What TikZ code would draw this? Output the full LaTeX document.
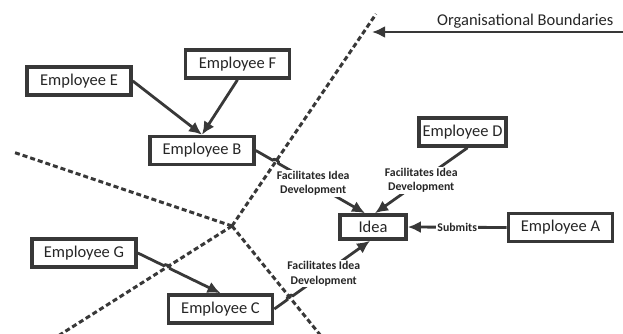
\documentclass[tikz,border=0pt]{standalone}
\usepackage{fontspec}
\setmainfont{Carlito}
\usetikzlibrary{arrows.meta}
\usetikzlibrary{calc}
\usetikzlibrary{intersections}
\definecolor{ink}{HTML}{383838}
\tikzset{
  emp/.style={draw=ink, line width=3.6pt, fill=white, minimum width=104pt,
    minimum height=28pt, font=\fontsize{16.5}{19}\selectfont, text=black!85},
  conn/.style={draw=ink, line width=2.8pt, -{Latex[length=13pt,width=12pt]}},
  bound/.style={draw=ink, line width=3pt, dash pattern=on 5pt off 3pt},
  lbl/.style={fill=white, inner sep=1pt, align=center,
    font=\fontsize{11.8}{14.5}\selectfont\bfseries, text=black!85},
}

\begin{document}
\begin{tikzpicture}[x=1pt,y=-1pt]
\useasboundingbox (0,0) rectangle (623,334);
% the two crossing boundaries
\coordinate (X) at (232,226);
\draw[bound, name path=bndUR] (X) -- (376,14);
\draw[bound, name path=bndL] (X) -- (13,152);
\draw[bound, name path=bndLL] (X) -- (58,336);
\draw[bound, name path=bndLR] (X) -- (321,336);

\node[emp] (E) at (79,81) {Employee E};
\node[emp] (F) at (237.5,64) {Employee F};
\node[emp] (B) at (202,150.5) {Employee B};
\node[emp, minimum width=87pt] (D) at (462.5,132) {Employee D};
\node[emp, minimum width=66pt, minimum height=24pt] (Idea) at (373,227) {Idea};
\node[emp] (A) at (560.5,227.5) {Employee A};
\node[emp] (G) at (84,253) {Employee G};
\node[emp] (C) at (220.5,309) {Employee C};

\node[anchor=east, font=\fontsize{16.5}{19}\selectfont, text=black!85] (bnd) at (617,21) {Organisational Boundaries};
\coordinate (bndS) at (623,32);
\coordinate (bndT) at (372,32);
\draw[conn] (bndS) -- (bndT);

\draw[conn] (E.east) -- (B.north);
\draw[conn] (F.south) -- (B.north);
\draw[conn] (A.west) -- node[lbl] {Submits} (Idea.east);
\draw[conn] ([xshift=5pt]D.south) -- node[lbl] {Facilitates Idea\\Development} ([xshift=2pt]Idea.north);

% connectors that hop over a boundary
\path[name path=lnBI] (B.east) -- ([xshift=-8pt]Idea.north);
\path[name intersections={of=lnBI and bndUR, by=hBI}];
\draw[conn] (B.east) -- ($(hBI)!3.5pt!(B.east)$) to[bend left=90]
  ($(hBI)!3.5pt!([xshift=-8pt]Idea.north)$)
  -- node[lbl, pos=0.4] {Facilitates Idea\\Development} ([xshift=-8pt]Idea.north);

\path[name path=lnGC] (G.east) -- (C.north);
\path[name intersections={of=lnGC and bndLL, by=hGC}];
\draw[conn] (G.east) -- ($(hGC)!3.5pt!(G.east)$) to[bend left=90]
  ($(hGC)!3.5pt!(C.north)$) -- (C.north);

\path[name path=lnCI] (C.east) -- ([xshift=-3pt]Idea.south);
\path[name intersections={of=lnCI and bndLR, by=hCI}];
\draw[conn] (C.east) -- ($(hCI)!3.5pt!(C.east)$) to[bend left=90]
  ($(hCI)!3.5pt!([xshift=-3pt]Idea.south)$)
  -- node[lbl, pos=0.4] {Facilitates Idea\\Development} ([xshift=-3pt]Idea.south);
\end{tikzpicture}
\end{document}
